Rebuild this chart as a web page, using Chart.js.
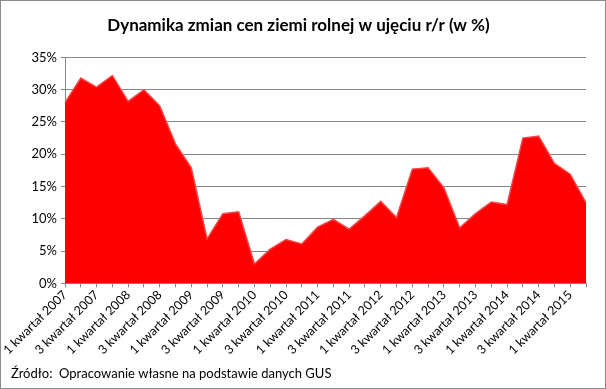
<!DOCTYPE html>
<html>
<head>
<meta charset="utf-8">
<script src="https://cdn.jsdelivr.net/npm/chart.js"></script>
<style>
    body { margin: 0; background: #fff; }
    #box { width: 604px; height: 387px; border: 1px solid #8a8a8a; }
</style>
</head>
<body>
<div id="box"><canvas id="myChart" width="604" height="387"></canvas></div>
<script>
// kwartały od 1 kw. 2007 do 2 kw. 2015
const quarters = [];
for (let y = 2007; y <= 2015; y++) {
    for (let q = 1; q <= 4; q++) {
        if (y === 2015 && q > 2) break;
        quarters.push(q + ' kwartał ' + y);
    }
}

// dynamika r/r w %
const values = [28.0, 31.8, 30.4, 32.2, 28.2, 30.0, 27.5, 21.6, 17.9, 6.9,
    10.8, 11.1, 3.0, 5.3, 6.8, 6.1, 8.7, 9.9, 8.4, 10.5,
    12.7, 10.2, 17.7, 17.9, 14.8, 8.6, 10.8, 12.6, 12.2, 22.5,
    22.8, 18.6, 16.9, 12.5];

const yTicks = [0, 5, 10, 15, 20, 25, 30, 35];

const ctx = document.getElementById('myChart');

new Chart(ctx, {
    type: 'line',
    data: {
        labels: quarters,
        datasets: [{
            data: values,
            fill: 'origin',
            backgroundColor: '#ff0000',
            borderColor: '#f04848',
            borderWidth: 1.5,
            pointRadius: 0,
            tension: 0,
        }]
    },
    options: {
        responsive: false,
        animation: false,
        layout: {
            padding: { left: 10, right: 19, top: 6, bottom: 4 }
        },
        plugins: {
            legend: { display: false },
            tooltip: { enabled: false },
            title: {
                display: true,
                text: 'Dynamika zmian cen ziemi rolnej w ujęciu r/r (w %)',
                color: '#000',
                font: { family: 'Lato', size: 17, weight: 'bold' },
                padding: { top: 8, bottom: 22 }
            },
            subtitle: {
                display: true,
                position: 'bottom',
                align: 'start',
                text: 'Źródło:  Opracowanie własne na podstawie danych GUS',
                color: '#000',
                font: { family: 'Lato', size: 13 },
                padding: { top: 9, bottom: 2 }
            }
        },
        scales: {
            x: {
                grid: {
                    drawOnChartArea: false,
                    drawTicks: true,
                    tickLength: 4,
                    color: '#868686'
                },
                border: { color: '#868686' },
                ticks: {
                    autoSkip: false,
                    maxRotation: 45,
                    minRotation: 45,
                    padding: 0,
                    color: '#000',
                    font: { family: 'Lato', size: 12.5 },
                    callback: function (val, i) {
                        return i % 2 === 0 ? quarters[i] : '';
                    }
                }
            },
            y: {
                min: 0,
                max: 35,
                afterBuildTicks: function (axis) {
                    axis.ticks = yTicks.map((v) => ({ value: v }));
                },
                afterFit: function (axis) {
                    axis.width = 54;
                },
                grid: {
                    color: '#868686',
                    tickLength: 4
                },
                border: { color: '#868686' },
                ticks: {
                    padding: 4,
                    color: '#000',
                    font: { family: 'Lato', size: 13 },
                    callback: (v) => v + '%'
                }
            }
        }
    }
});
</script>
</body>
</html>
